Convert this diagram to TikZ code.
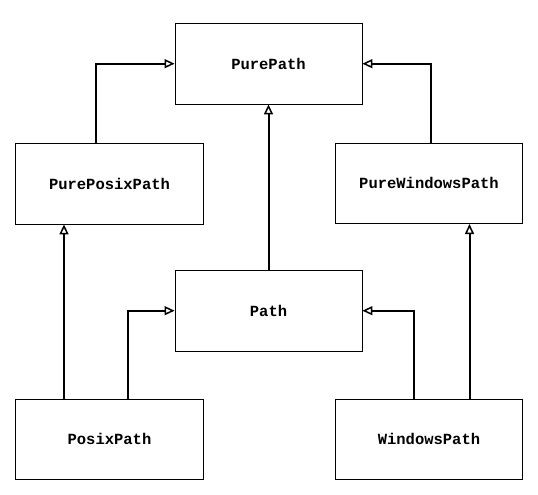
\documentclass[tikz,border=0pt]{standalone}
\usepackage{fontspec}
\setmonofont{Liberation Mono}
\usetikzlibrary{arrows.meta}
\tikzset{
  box/.style={draw=black, line width=0.9pt, fill=white, minimum width=187pt, minimum height=80.5pt, inner sep=0pt, font=\ttfamily\bfseries\fontsize{15.5}{18}\selectfont},
  inh/.style={line width=2pt, -{Triangle[open, length=10pt, width=9pt, line width=1.5pt]}}
}
\begin{document}
\begin{tikzpicture}[x=1pt, y=-1pt]
\useasboundingbox (0,0) rectangle (538,495);
\node[box] (pure) at (268.5,63.7) {PurePath};
\node[box, minimum width=188.4pt] (ppp) at (109.5,183.7) {PurePosixPath};
\node[box] (pwp) at (429,183.3) {PureWindowsPath};
\node[box] (path) at (268.5,310.7) {Path};
\node[box, minimum width=188.4pt] (px) at (109.5,439.2) {PosixPath};
\node[box] (wp) at (429,439.2) {WindowsPath};
\draw[inh] (95.7,0 |- ppp.north) |- (pure.west);
\draw[inh] (430.7,0 |- pwp.north) |- (pure.east);
\draw[inh] (path.north) -- (pure.south);
\draw[inh] (64,0 |- px.north) -- (64,0 |- ppp.south);
\draw[inh] (128.3,0 |- px.north) |- (path.west);
\draw[inh] (414.3,0 |- wp.north) |- (path.east);
\draw[inh] (469.5,0 |- wp.north) -- (469.5,0 |- pwp.south);
\end{tikzpicture}
\end{document}
